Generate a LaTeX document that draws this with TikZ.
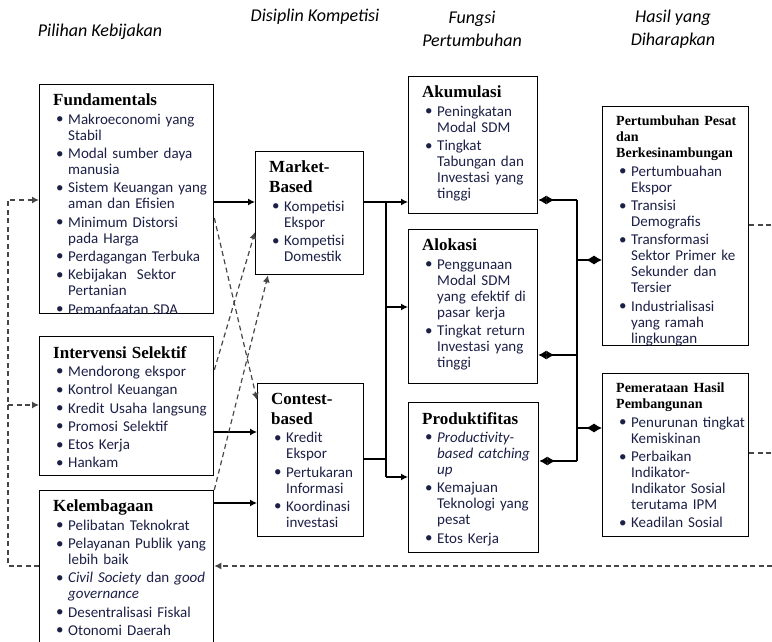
\documentclass[tikz,border=0pt]{standalone}
\usepackage{fontspec}
\setmainfont{Carlito}
\newfontfamily\ttlfam{Liberation Serif}
\usetikzlibrary{arrows.meta}
\definecolor{itemcol}{RGB}{28,32,70}
\definecolor{dashcol}{RGB}{70,70,70}

\newcommand{\nl}{\hfil\break}
\newcommand{\bul}[1]{\par\hangindent=15pt\hangafter=1\noindent\hspace*{3pt}\makebox[12pt][l]{\raisebox{0.5pt}{\textbullet}}#1}
\newcommand{\ttl}[1]{{\color{black}\ttlfam\bfseries\fontsize{17}{20}\selectfont #1\par}}
\newcommand{\ttls}[1]{{\color{black}\ttlfam\bfseries\fontsize{14}{16}\selectfont #1\par}}
\newcommand{\boxtext}[2]{\begin{scope}\clip (#1.south west) rectangle (#1.north east);
  \node[txt] (#1-t) at ([xshift=14pt,yshift=-10pt]#1.north west) {\setlength{\parskip}{2.3pt}#2\par};\end{scope}}

\begin{document}
\begin{tikzpicture}[x=1pt,y=-1pt]
\tikzstyle{panel}=[draw, line width=1.3pt, anchor=north west, inner sep=0pt]
\tikzstyle{txt}=[anchor=north west, inner sep=0pt, text width=200pt, align=left, text=itemcol, font=\fontsize{15}{16}\selectfont]
\tikzstyle{head}=[font=\itshape\fontsize{18}{23}\selectfont, align=center]
\tikzstyle{arr}=[-{Latex[length=7pt,width=7pt]}, line width=1.2pt]
\tikzstyle{dsh}=[dash pattern=on 5pt off 3.5pt, draw=dashcol, line width=1.4pt]
\tikzstyle{dbl}=[-{Latex[length=8pt,width=9pt,reversed]Latex[length=8pt,width=9pt]}, line width=1.2pt]
\useasboundingbox (0,0) rectangle (772,642);
\clip (0,0) rectangle (772,642);

\node[head] (h1) at (100,32) {Pilihan Kebijakan};
\node[head] (h2) at (315,17) {Disiplin Kompetisi};
\node[head] (h3) at (472,29) {Fungsi\\Pertumbuhan};
\node[head] (h4) at (673,29) {Hasil yang\\Diharapkan};

\node[panel, minimum width=174pt, minimum height=229pt] (fund) at (39,84) {};
\node[panel, minimum width=174pt, minimum height=139pt] (inter) at (39,336) {};
\node[panel, minimum width=174pt, minimum height=170pt] (kel) at (39,490) {};
\node[panel, minimum width=108pt, minimum height=123pt] (market) at (255,151) {};
\node[panel, minimum width=106pt, minimum height=153pt] (contest) at (257,383) {};
\node[panel, minimum width=129pt, minimum height=137pt] (akum) at (408,76) {};
\node[panel, minimum width=129pt, minimum height=154pt] (alok) at (408,229) {};
\node[panel, minimum width=130pt, minimum height=150pt] (prod) at (408,402) {};
\node[panel, minimum width=146pt, minimum height=239pt] (pert) at (602,106) {};
\node[panel, minimum width=146pt, minimum height=163pt] (pemer) at (602,373) {};

\boxtext{fund}{\ttl{Fundamentals}
  \bul{Makroeconomi yang\nl Stabil}
  \bul{Modal sumber daya\nl manusia}
  \bul{Sistem Keuangan yang\nl aman dan Efisien}
  \bul{Minimum Distorsi\nl pada Harga}
  \bul{Perdagangan Terbuka}
  \bul{Kebijakan\ \ Sektor\nl Pertanian}
  \bul{Pemanfaatan SDA}}
\boxtext{inter}{\ttl{Intervensi Selektif}
  \bul{Mendorong ekspor}
  \bul{Kontrol Keuangan}
  \bul{Kredit Usaha langsung}
  \bul{Promosi Selektif}
  \bul{Etos Kerja}
  \bul{Hankam}}
\boxtext{kel}{\ttl{Kelembagaan}
  \bul{Pelibatan Teknokrat}
  \bul{Pelayanan Publik yang\nl lebih baik}
  \bul{\textit{Civil Society} dan \textit{good}\nl\textit{governance}}
  \bul{Desentralisasi Fiskal}
  \bul{Otonomi Daerah}}
\boxtext{market}{\ttl{Market-\\Based}
  \bul{Kompetisi\nl Ekspor}
  \bul{Kompetisi\nl Domestik}}
\boxtext{contest}{\ttl{Contest-\\based}
  \bul{Kredit\nl Ekspor}
  \bul{Pertukaran\nl Informasi}
  \bul{Koordinasi\nl investasi}}
\boxtext{akum}{\ttl{Akumulasi}
  \bul{Peningkatan\nl Modal SDM}
  \bul{Tingkat\nl Tabungan dan\nl Investasi yang\nl tinggi}}
\boxtext{alok}{\ttl{Alokasi}
  \bul{Penggunaan\nl Modal SDM\nl yang efektif di\nl pasar kerja}
  \bul{Tingkat return\nl Investasi yang\nl tinggi}}
\boxtext{prod}{\ttl{Produktifitas}
  \bul{\textit{Productivity-}\nl\textit{based catching}\nl\textit{up}}
  \bul{Kemajuan\nl Teknologi yang\nl pesat}
  \bul{Etos Kerja}}
\boxtext{pert}{\ttls{Pertumbuhan Pesat\\dan\\Berkesinambungan}
  \bul{Pertumbuahan\nl Ekspor}
  \bul{Transisi\nl Demografis}
  \bul{Transformasi\nl Sektor Primer ke\nl Sekunder dan\nl Tersier}
  \bul{Industrialisasi\nl yang ramah\nl lingkungan}}
\boxtext{pemer}{\ttls{Pemerataan Hasil\\Pembangunan}
  \bul{Penurunan tingkat\nl Kemiskinan}
  \bul{Perbaikan\nl Indikator-\nl Indikator Sosial\nl terutama IPM}
  \bul{Keadilan Sosial}}

\draw[arr] (fund.east |- 0,202) -- (market.west |- 0,202);
\draw[arr] (inter.east |- 0,432) -- (contest.west |- 0,432);
\draw[arr] (kel.east |- 0,503) -- (contest.west |- 0,503);
\draw[dsh,arr] (fund.east |- 0,218) -- (contest.west |- 0,400);
\draw[dsh,arr] (inter.east |- 0,370) -- (market.west |- 0,232);
\draw[dsh,arr] (kel.north east) -- (market.south -| 268,0);

\coordinate (bl1) at (386,202);
\coordinate (bl2) at (386,307);
\coordinate (bl3) at (386,459);
\coordinate (bl4) at (386,477);
\draw[arr] (market.east |- bl1) -- (akum.west |- bl1);
\draw[line width=1.2pt] (bl1) -- (bl4);
\draw[arr] (bl2) -- (alok.west |- bl2);
\draw[line width=1.2pt] (contest.east |- bl3) -- (bl3);
\draw[arr] (bl4) -- (prod.west |- bl4);

\coordinate (br1) at (577,200);
\coordinate (br2) at (577,355);
\coordinate (br3) at (577,461);
\coordinate (br4) at (577,260);
\coordinate (br5) at (577,428);
\draw[line width=1.2pt] (br1) -- (br3);
\draw[dbl] (br1) -- (akum.east |- br1);
\draw[dbl] (br2) -- (alok.east |- br2);
\draw[dbl] (br3) -- (prod.east |- br3);
\draw[dbl] (br4) -- (pert.west |- br4);
\draw[dbl] (br5) -- (pemer.west |- br5);

\coordinate (fbR) at (790,225);
\coordinate (fbL) at (8,200);
\coordinate (fbM) at (8,405);
\draw[dsh,arr] (pert.east |- fbR) -- (fbR) |- (kel.east |- 0,566);
\draw[dsh] (pemer.east |- 0,453) -- (fbR |- 0,453);
\draw[dsh,arr] (kel.west |- 0,566) -| (fbL) -- (fund.west |- fbL);
\draw[dsh,arr] (fbM) -- (inter.west |- fbM);
\end{tikzpicture}
\end{document}
